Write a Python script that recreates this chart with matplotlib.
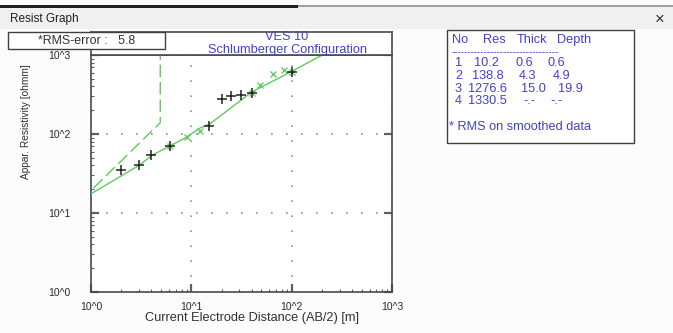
import numpy as np
import matplotlib
matplotlib.use("Agg")
import matplotlib.pyplot as plt
from matplotlib.patches import Rectangle
from matplotlib.ticker import LogLocator, FixedLocator, NullFormatter

plt.rcParams['font.family'] = ['Liberation Sans', 'DejaVu Sans']

# field readings (AB/2 in m, apparent resistivity in ohmm)
field_ab2 = [2.0, 3.0, 4.0, 6.1, 15.1, 20.1, 24.9, 31.5, 40.3, 101.6]
field_rho = [34.8, 40.5, 53.8, 70.5, 127, 275, 300, 314, 333, 615]

# smoothed readings
smooth_ab2 = [6.1, 9.0, 12.2, 40.3, 48.4, 65.8, 83.0, 101.6]
smooth_rho = [70.5, 91.6, 108, 333, 413, 580, 640, 615]

# computed response of the layer model
model_ab2 = [1.0, 3.03, 4.06, 6.13, 9.0, 12.2, 15.4, 40.0, 100.0, 185.0, 250.0]
model_rho = [17.5, 40.2, 53.8, 70.5, 91.6, 119, 135, 340, 620, 944, 1140]

# layer model
layer_no = [1, 2, 3, 4]
layer_res = [10.2, 138.8, 1276.6, 1330.5]
layer_thick = [0.6, 4.3, 15.0]
layer_depth = [0.6, 4.9, 19.9]

rms_error = 5.8
ves_name = "VES 10"
config_name = "Schlumberger Configuration"
tick_labels = ["10^0", "10^1", "10^2", "10^3"]

W, H = 673, 333
fig = plt.figure(figsize=(W / 100, H / 100), dpi=100)
fig.patch.set_facecolor('#fcfcfc')


def fx(px):
    return px / W


def fy(py):
    return 1 - py / H


# window title bar
fig.add_artist(Rectangle((0, fy(29)), 1, fy(6) - fy(29), transform=fig.transFigure,
                         facecolor='#f0f0f0', edgecolor='none'))
fig.add_artist(Rectangle((0, fy(8)), fx(298), fy(5) - fy(8), transform=fig.transFigure,
                         facecolor='#202020', edgecolor='none'))
fig.add_artist(Rectangle((fx(298), fy(7)), 1 - fx(298), fy(5) - fy(7), transform=fig.transFigure,
                         facecolor='#a0a0a0', edgecolor='none'))
fig.text(fx(10), fy(19), "Resist Graph", fontsize=8.5, color='#202020', va='center')
fig.text(fx(660), fy(19), "\u00d7", fontsize=12, color='#303030', va='center', ha='center')

blue = '#4040d0'
green = '#5ccc5c'
frame = '#4a4a4a'
fs = 9.2

# main log-log axes
ax = fig.add_axes([fx(91), fy(292), fx(392) - fx(91), fy(55) - fy(292)])
ax.set_xscale('log')
ax.set_yscale('log')
ax.set_xlim(1, 1000)
ax.set_ylim(1, 1000)

ax.plot(model_ab2, model_rho, color=green, lw=1.0, zorder=3)

# layer boundaries as a stepped profile
step_x = [layer_depth[0], layer_depth[1], layer_depth[1], layer_depth[2], layer_depth[2]]
step_y = [layer_res[0], layer_res[1], layer_res[2], layer_res[2], layer_res[3]]
ax.plot(step_x, step_y, color=green, lw=1.0, dashes=(9, 3.5), zorder=3)

ax.plot(smooth_ab2, smooth_rho, ls='none', marker='x', ms=4.5, mew=1.0, color='#66cc66', zorder=4)
ax.plot(field_ab2, field_rho, ls='none', marker='+', ms=6.5, mew=1.1, color='#222222', zorder=5)

decades = [1, 10, 100, 1000]
ax.xaxis.set_major_locator(FixedLocator(decades))
ax.yaxis.set_major_locator(FixedLocator(decades))
ax.xaxis.set_minor_locator(LogLocator(base=10, subs=np.arange(2, 10), numticks=20))
ax.yaxis.set_minor_locator(LogLocator(base=10, subs=np.arange(2, 10), numticks=20))
ax.xaxis.set_minor_formatter(NullFormatter())
ax.yaxis.set_minor_formatter(NullFormatter())
ax.set_xticklabels(tick_labels)
ax.set_yticklabels(tick_labels)

ax.tick_params(which='major', direction='in', length=6, width=1.6, color='#606060',
               labelsize=7.5, labelcolor='#2a2a2a', right=True, top=False)
ax.tick_params(axis='x', which='major', pad=7)
ax.tick_params(axis='y', which='major', pad=15)
ax.tick_params(which='minor', direction='in', length=2.5, width=0.8, color='#606060',
               right=False, top=False)

ax.grid(True, which='major', color='#909090', lw=1.2, linestyle=(0, (1, 8)))
for s in ax.spines.values():
    s.set_color(frame)
    s.set_linewidth(1.2)
ax.set_facecolor('white')

fig.text(fx(252), fy(318), "Current Electrode Distance (AB/2) [m]", fontsize=fs,
         color='#303030', ha='center', va='center')
fig.text(fx(26), fy(122), "Appar. Resistivity [ohmm]", fontsize=7.3, color='#303030',
         ha='center', va='center', rotation=90)

# header band above the plot
hdr = fig.add_axes([fx(91), fy(55), fx(392) - fx(91), fy(32) - fy(55)])
hdr.set_xticks([])
hdr.set_yticks([])
hdr.set_facecolor('white')
for s in hdr.spines.values():
    s.set_color(frame)
    s.set_linewidth(1.2)
fig.text(fx(287), fy(37.5), ves_name, fontsize=fs, color=blue, ha='center', va='center')
fig.text(fx(287), fy(49.5), config_name, fontsize=fs, color=blue, ha='center', va='center')

# RMS box
fig.add_artist(Rectangle((fx(8), fy(49)), fx(165) - fx(8), fy(32) - fy(49),
                         transform=fig.transFigure, facecolor='white',
                         edgecolor='#404040', lw=1.0, zorder=5))
fig.text(fx(38), fy(41.5), "*RMS-error :   %.1f" % rms_error, fontsize=8.9,
         color='#303030', va='center', zorder=6)

# layer table
fig.add_artist(Rectangle((fx(447), fy(143)), fx(634) - fx(447), fy(30) - fy(143),
                         transform=fig.transFigure, facecolor='white',
                         edgecolor='#404040', lw=1.0))
head_x = [452, 483, 517, 557]
for x, t in zip(head_x, ["No", "Res", "Thick", "Depth"]):
    fig.text(fx(x), fy(40), t, fontsize=fs, color=blue, va='center')
fig.text(fx(452), fy(52.5), "-" * 33, fontsize=7, color=blue, va='center')

row_y = [63.3, 76, 89.5, 101]
res_x = [474, 472, 468, 468]
thick_x = [515, 519, 521, 523]
depth_x = [548, 553, 558, 550]
for i, n in enumerate(layer_no):
    y = fy(row_y[i])
    fig.text(fx(455), y, str(n), fontsize=fs, color=blue, va='center')
    fig.text(fx(res_x[i]), y, "%.1f" % layer_res[i], fontsize=fs, color=blue, va='center')
    if i < len(layer_thick):
        th = "%.1f" % layer_thick[i]
        dp = "%.1f" % layer_depth[i]
    else:
        th = dp = "-.-"
    fig.text(fx(thick_x[i]), y, th, fontsize=fs, color=blue, va='center')
    fig.text(fx(depth_x[i]), y, dp, fontsize=fs, color=blue, va='center')
fig.text(fx(449), fy(127), "* RMS on smoothed data", fontsize=fs, color=blue, va='center')

fig.savefig("out.png", dpi=100, facecolor=fig.get_facecolor())
